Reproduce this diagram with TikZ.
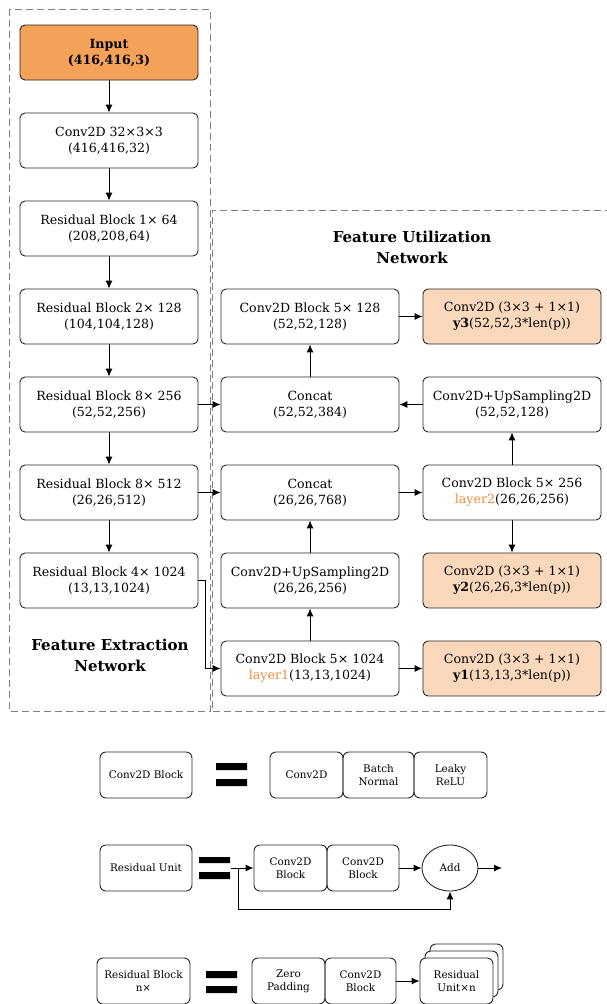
\documentclass[tikz,border=0pt]{standalone}
\usepackage{fontspec}
\setmainfont{DejaVu Serif}
\usetikzlibrary{arrows.meta,shapes.geometric}
\definecolor{inputorange}{RGB}{244,161,90}
\definecolor{outorange}{RGB}{250,216,188}
\definecolor{layerorange}{RGB}{240,140,60}
\begin{document}
\begin{tikzpicture}[x=1pt,y=-1pt,
    blk/.style={draw=black!85,line width=.9pt,rounded corners=5pt,minimum width=178pt,
      minimum height=55pt,inner sep=0pt,align=center,font=\fontsize{12.6}{16}\selectfont},
    part/.style={draw=black!85,line width=.9pt,rounded corners=6pt,minimum width=73pt,
      minimum height=46pt,inner sep=0pt,align=center,font=\fontsize{10.4}{13}\selectfont},
    frame/.style={draw=black!50,dash pattern=on 7pt off 4pt,line width=1pt},
    flow/.style={-{Latex[length=8pt,width=7pt]},line width=1pt},
    title/.style={font=\fontsize{15}{21}\selectfont\bfseries,align=center},
  ]
  \useasboundingbox (0,0) rectangle (606,1004);
  % the two dashed groups
  \draw[frame] (9,9) rectangle (210,711);
  \draw[frame] (612,210) -- (212,210) -- (212,711) -- (612,711);
  \node[title] (fe) at (110,655) {Feature Extraction\\Network};
  \node[title] (fu) at (412,247) {Feature Utilization\\Network};
  % backbone
  \node[blk,fill=inputorange,font=\fontsize{12.6}{16}\selectfont\bfseries] (in) at (109,52.5) {Input\\(416,416,3)};
  \node[blk] (c1) at (109,140.5) {Conv2D 32×3×3\\(416,416,32)};
  \node[blk] (r1) at (109,228.5) {Residual Block 1× 64\\(208,208,64)};
  \node[blk] (r2) at (109,316.5) {Residual Block 2× 128\\(104,104,128)};
  \node[blk] (r3) at (109,404.5) {Residual Block 8× 256\\(52,52,256)};
  \node[blk] (r4) at (109,492.5) {Residual Block 8× 512\\(26,26,512)};
  \node[blk] (r5) at (109,580.5) {Residual Block 4× 1024\\(13,13,1024)};
  % heads
  \node[blk] (cb128) at (310,316.5) {Conv2D Block 5× 128\\(52,52,128)};
  \node[blk,fill=outorange] (y3) at (512,316.5) {Conv2D (3×3 + 1×1)\\\textbf{y3}(52,52,3*len(p))};
  \node[blk] (cat52) at (310,404.5) {Concat\\(52,52,384)};
  \node[blk] (up52) at (512,404.5) {Conv2D+UpSampling2D\\(52,52,128)};
  \node[blk] (cat26) at (310,492.5) {Concat\\(26,26,768)};
  \node[blk] (cb256) at (512,492.5) {Conv2D Block 5× 256\\\textcolor{layerorange}{layer2}(26,26,256)};
  \node[blk] (up26) at (310,580.5) {Conv2D+UpSampling2D\\(26,26,256)};
  \node[blk,fill=outorange] (y2) at (512,580.5) {Conv2D (3×3 + 1×1)\\\textbf{y2}(26,26,3*len(p))};
  \node[blk] (cb1024) at (310,668.5) {Conv2D Block 5× 1024\\\textcolor{layerorange}{layer1}(13,13,1024)};
  \node[blk,fill=outorange] (y1) at (512,668.5) {Conv2D (3×3 + 1×1)\\\textbf{y1}(13,13,3*len(p))};
  \draw[flow] (in) -- (c1);
  \draw[flow] (c1) -- (r1);
  \draw[flow] (r1) -- (r2);
  \draw[flow] (r2) -- (r3);
  \draw[flow] (r3) -- (r4);
  \draw[flow] (r4) -- (r5);
  \draw[flow] (r3) -- (cat52);
  \draw[flow] (r4) -- (cat26);
  \draw[flow] (r5.east) -- ++(7,0) |- (cb1024.west);
  \draw[flow] (cb1024) -- (up26);
  \draw[flow] (up26) -- (cat26);
  \draw[flow] (cat26) -- (cb256);
  \draw[flow] (cb256) -- (y2);
  \draw[flow] (cb256) -- (up52);
  \draw[flow] (up52) -- (cat52);
  \draw[flow] (cat52) -- (cb128);
  \draw[flow] (cb128) -- (y3);
  \draw[flow] (cb1024) -- (y1);
  % legend: Conv2D Block
  \node[part,minimum width=92pt] (lcb) at (146,775) {Conv2D Block};
  \fill (216,763) rectangle (247,770) (216,779) rectangle (247,786);
  \node[part] (lconv) at (306.5,775) {Conv2D};
  \node[part,minimum width=71pt] (lbn) at (378.5,775) {Batch\\Normal};
  \node[part] (lrelu) at (450.5,775) {Leaky\\ReLU};
  % legend: Residual Unit
  \node[part,minimum width=92pt] (lru) at (146,868) {Residual Unit};
  \fill (199,857) rectangle (230,863) (199,872) rectangle (230,879);
  \coordinate (ruin) at (231,868);
  \coordinate (skip) at (238,868);
  \node[part] (lcb1) at (290.5,868) {Conv2D\\Block};
  \node[part,minimum width=72pt] (lcb2) at (363,868) {Conv2D\\Block};
  \node[draw=black!85,line width=.9pt,ellipse,minimum width=56pt,minimum height=46pt,inner sep=0pt,
    font=\fontsize{10.4}{13}\selectfont] (add) at (450,868) {Add};
  \coordinate (ruout) at (502,868);
  \draw[flow] (ruin) -- (lcb1);
  \draw[flow] (lcb2) -- (add);
  \draw[flow] (add) -- (ruout);
  \draw[flow] (skip) |- (450,909) -- (add.south);
  % legend: Residual Block
  \node[part,minimum width=93pt] (lrb) at (143.5,981) {Residual Block\\n×};
  \fill (206,971) rectangle (237,978) (206,986) rectangle (237,993);
  \node[part] (lzp) at (288.5,981) {Zero\\Padding};
  \node[part,minimum width=71pt] (lcb3) at (360.5,981) {Conv2D\\Block};
  \node[part,fill=white] (lrub) at (466.5,967) {};
  \node[part,fill=white] (lrum) at (461.5,974) {};
  \node[part,fill=white] (lru3) at (456.5,981) {Residual\\Unit×n};
  \draw[flow] (lcb3) -- (lru3);
\end{tikzpicture}
\end{document}
